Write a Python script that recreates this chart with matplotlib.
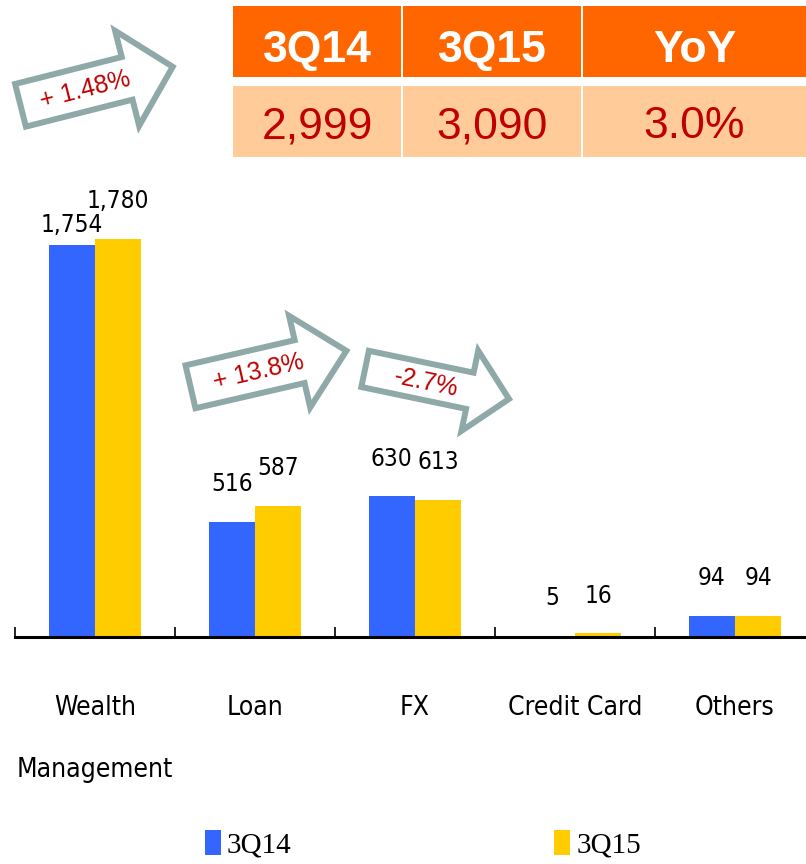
import numpy as np
import matplotlib

matplotlib.use("Agg")
import matplotlib.pyplot as plt
from matplotlib.patches import Polygon, Rectangle

# data
categories = ["Wealth\nManagement", "Loan", "FX", "Credit Card", "Others"]
q14 = [1754, 516, 630, 5, 94]
q15 = [1780, 587, 613, 16, 94]
series_labels = ["3Q14", "3Q15"]

table_header = ["3Q14", "3Q15", "YoY"]
table_values = ["2,999", "3,090", "3.0%"]

arrow_texts = ["+ 1.48%", "+ 13.8%", "-2.7%"]

BLUE = "#3366FF"
YELLOW = "#FFCC00"
RED = "#C00000"
ARROW_EDGE = "#8FA8A8"
NARROW = dict(family="DejaVu Sans", stretch="condensed")

W, H = 806, 864
fig = plt.figure(figsize=(W / 100, H / 100), dpi=100)

# ---- bar chart
ax = fig.add_axes([15 / W, 227 / H, 791 / W, 477 / H])
x = np.arange(len(categories))
bw = 0.29
b1 = ax.bar(x - bw / 2, q14, bw, color=BLUE, label=series_labels[0])
b2 = ax.bar(x + bw / 2, q15, bw, color=YELLOW, label=series_labels[1])

for bars, vals in ((b1, q14), (b2, q15)):
    for bar, v in zip(bars, vals):
        off = 22
        # the left wealth label sits lower to clear its neighbour
        if bars is b1 and v == max(q14):
            off = 9
        ax.annotate(f"{v:,}", xy=(bar.get_x() + bar.get_width() / 2, v),
                    xytext=(0, off), textcoords="offset points",
                    ha="center", va="baseline", fontsize=17.5, **NARROW)

ax.set_xlim(-0.5, 4.444)
ax.set_ylim(0, 2133)
for s in ("top", "right", "left"):
    ax.spines[s].set_visible(False)
ax.spines["bottom"].set_linewidth(2.2)
ax.spines["bottom"].set_color("black")
ax.set_yticks([])
ax.set_xticks(x)
ax.set_xticklabels(categories, fontsize=19, linespacing=2.8, **NARROW)
ax.set_xticks(np.arange(len(categories)) - 0.5, minor=True)
ax.tick_params(axis="x", which="major", length=0, pad=42)
ax.tick_params(axis="x", which="minor", direction="in", length=7, width=1.2,
               color="black")

fig.legend(handles=[b1, b2], labels=series_labels, loc="center",
           bbox_to_anchor=(423 / W, 1 - 844 / H), ncol=2, frameon=False,
           prop={"family": "Liberation Serif", "size": 21},
           handlelength=0.55, handleheight=0.95, handletextpad=0.2,
           columnspacing=9.0, borderpad=0)

# ---- summary table
tax = fig.add_axes([233 / W, 1 - 157 / H, 573 / W, 152 / H])
tax.set_xlim(0, 573)
tax.set_ylim(152, 0)
tax.axis("off")
col_edges = [(0, 168), (170, 348), (350, 573)]
for (c0, c1), head, val in zip(col_edges, table_header, table_values):
    tax.add_patch(Rectangle((c0, 1), c1 - c0, 71, color="#FF6600", lw=0))
    tax.add_patch(Rectangle((c0, 81), c1 - c0, 71, color="#FFCC99", lw=0))
    cx = (c0 + c1) / 2
    tax.text(cx, 57, head, ha="center", va="baseline", color="white",
             fontsize=32, fontweight="bold", family="Liberation Sans")
    tax.text(cx, 133, val, ha="center", va="baseline", color=RED,
             fontsize=32, family="Liberation Sans")

# ---- callout arrows
oax = fig.add_axes([0, 0, 1, 1], zorder=5)
oax.set_xlim(0, W)
oax.set_ylim(H, 0)
oax.axis("off")


def draw_arrow(tail, angle, length, head_len, shaft_half, head_half, text, text_at):
    a = np.deg2rad(angle)
    u = np.array([np.cos(a), -np.sin(a)])
    v = np.array([np.sin(a), np.cos(a)])
    hb = length - head_len
    local = [(0, -shaft_half), (hb, -shaft_half), (hb, -head_half), (length, 0),
             (hb, head_half), (hb, shaft_half), (0, shaft_half)]
    pts = [np.array(tail) + lx * u + ly * v for lx, ly in local]
    oax.add_patch(Polygon(pts, closed=True, facecolor="white",
                          edgecolor=ARROW_EDGE, lw=4.3, joinstyle="miter"))
    c = np.array(tail) + text_at * u
    oax.text(c[0], c[1] + 1, text, rotation=angle, rotation_mode="anchor",
             ha="center", va="center", color=RED, fontsize=18,
             family="Liberation Sans")


draw_arrow((20.5, 105.3), 14.2, 157, 47, 22, 49, arrow_texts[0], 67)
draw_arrow((190.5, 386.8), 13.0, 160, 48, 22, 47, arrow_texts[1], 70)
draw_arrow((365.1, 368.9), -11.8, 147, 40, 18.5, 41, arrow_texts[2], 62)

fig.savefig("out.png", dpi=100)
